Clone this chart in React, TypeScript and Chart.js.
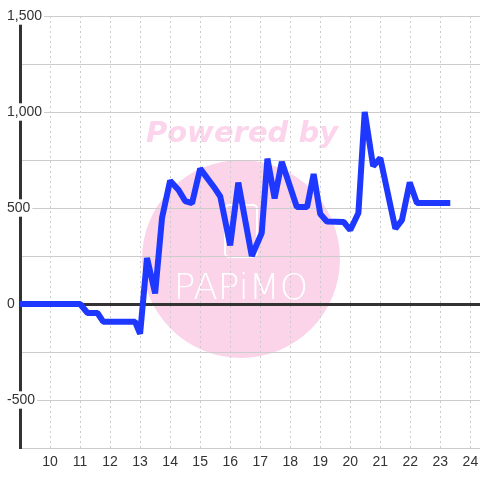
import React, { useEffect, useRef } from 'react';
import { Chart, registerables } from 'chart.js';

Chart.register(...registerables);

// Hour of day (x) and value (y)
const hours = [9.0, 11.0, 11.25, 11.58, 11.77, 12.83, 13.0, 13.23, 13.5, 13.73, 14.0, 14.28, 14.5, 14.73, 15.0, 15.5, 15.67, 16.0, 16.27, 16.72, 17.05, 17.24, 17.48, 17.72, 18.22, 18.56, 18.78, 19.0, 19.22, 19.78, 20.0, 20.27, 20.48, 20.76, 21.0, 21.5, 21.72, 21.98, 22.22, 23.33];
const values = [0, 0, -47, -47, -92, -92, -155, 240, 55, 448, 642, 594, 536, 525, 705, 600, 560, 305, 632, 250, 370, 757, 550, 740, 505, 505, 677, 469, 430, 427, 385, 474, 1000, 718, 760, 392, 437, 633, 526, 526];

const xTickValues = [10, 11, 12, 13, 14, 15, 16, 17, 18, 19, 20, 21, 22, 23, 24];
const yTickValues = [-750, -500, -250, 0, 250, 500, 750, 1000, 1250, 1500];
const yLabelled = [-500, 0, 500, 1000, 1500];

const watermarkPlugin = {
  id: 'watermark',
  beforeDraw(chart: any) {
    const ctx = chart.ctx;
    ctx.save();
    ctx.fillStyle = '#ffffff';
    ctx.fillRect(0, 0, chart.width, chart.height);
    ctx.fillStyle = '#fbd4ea';
    ctx.beginPath();
    ctx.arc(241, 259, 99, 0, Math.PI * 2);
    ctx.fill();
    ctx.textAlign = 'center';
    ctx.textBaseline = 'middle';
    ctx.font = 'italic 900 29px "DejaVu Sans", "Liberation Sans", Arial, sans-serif';
    ctx.fillStyle = '#fcd4ec';
    ctx.fillText('Powered by', 242, 134);
    ctx.strokeStyle = '#ffffff';
    ctx.lineWidth = 2;
    ctx.beginPath();
    if ((ctx as any).roundRect) (ctx as any).roundRect(225, 205, 32, 52, 4);
    else ctx.rect(225, 205, 32, 52);
    ctx.stroke();
    ctx.fillStyle = '#ffffff';
    ctx.font = '300 36px "DejaVu Sans", sans-serif';
    ctx.fillText('PAPiMO', 241, 290);
    ctx.restore();
  },
};

export default function App() {
  const ref = useRef<HTMLCanvasElement | null>(null);

  useEffect(() => {
    document.body.style.margin = '0';
    const canvas = ref.current;
    if (!canvas) return;
    const chart = new Chart(canvas, {
      type: 'line',
      data: {
        datasets: [
          {
            data: hours.map((h, i) => ({ x: h, y: values[i] })),
            borderColor: '#1f38ff',
            borderWidth: 6,
            borderJoinStyle: 'bevel',
            pointRadius: 0,
            fill: false,
            tension: 0,
          },
        ],
      },
      options: {
        animation: false,
        responsive: false,
        devicePixelRatio: 1,
        layout: { padding: { top: 16, right: 0, bottom: 0, left: 0 } },
        plugins: { legend: { display: false }, tooltip: { enabled: false } },
        scales: {
          x: {
            type: 'linear',
            min: 9,
            max: 24.32,
            afterBuildTicks: (scale: any) => {
              scale.ticks = xTickValues.map((v) => ({ value: v }));
            },
            afterFit: (scale: any) => {
              scale.height = 32;
              scale.paddingLeft = 0;
              scale.paddingRight = 0;
            },
            grid: { color: '#cccccc', lineWidth: 1, drawTicks: false },
            border: { display: false, dash: [2, 3] },
            ticks: {
              color: '#333333',
              padding: 6,
              font: { family: '"Liberation Sans", Arial, sans-serif', size: 14 },
              maxRotation: 0,
              autoSkip: false,
            },
          },
          y: {
            type: 'linear',
            min: -750,
            max: 1500,
            afterBuildTicks: (scale: any) => {
              scale.ticks = yTickValues.map((v) => ({ value: v }));
            },
            afterFit: (scale: any) => {
              scale.width = 20;
              scale.paddingTop = 0;
              scale.paddingBottom = 0;
            },
            grid: {
              color: (c: any) => (c.tick && c.tick.value === 0 ? '#333333' : '#cccccc'),
              lineWidth: (c: any) => (c.tick && c.tick.value === 0 ? 3 : 1),
              drawTicks: false,
            },
            border: { display: true, color: '#333333', width: 3 },
            ticks: {
              mirror: true,
              padding: -13,
              color: '#333333',
              font: { family: '"Liberation Sans", Arial, sans-serif', size: 14, lineHeight: 1.1 },
              showLabelBackdrop: true,
              backdropColor: '#ffffff',
              backdropPadding: { top: 1, bottom: 1, left: 2, right: 2 },
              callback: (v: any) => (yLabelled.includes(Number(v)) ? Number(v).toLocaleString('en-US') : ''),
            },
          },
        },
      } as any,
      plugins: [watermarkPlugin],
    });
    return () => chart.destroy();
  }, []);

  return <canvas ref={ref} width={480} height={480} style={{ display: 'block' }} />;
}
